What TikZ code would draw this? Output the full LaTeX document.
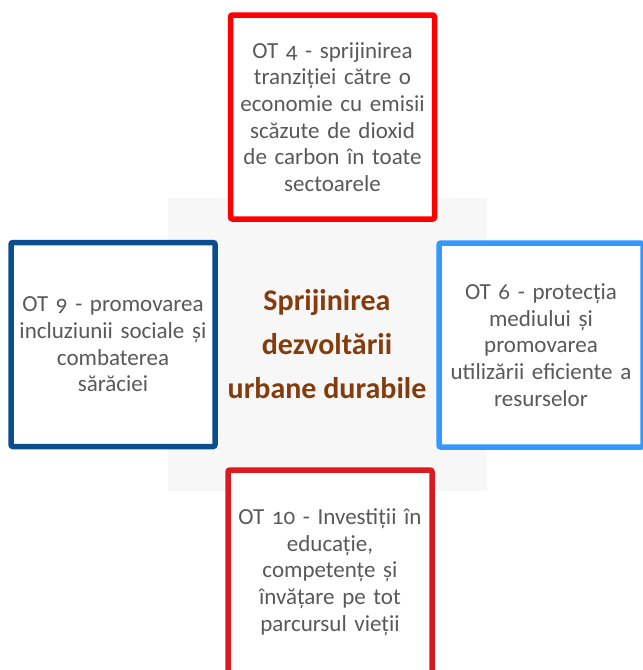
\documentclass[tikz,border=0pt]{standalone}
\usepackage{fontspec}
\setmainfont[Numbers=OldStyle]{Carlito}
\definecolor{txtgray}{HTML}{595959}
\definecolor{brownc}{HTML}{843C0C}
\definecolor{redtop}{HTML}{FF0000}
\definecolor{redbot}{HTML}{DA1A1F}
\definecolor{bluedark}{HTML}{0B4E8D}
\definecolor{bluelight}{HTML}{3399FF}
\definecolor{bggray}{HTML}{F7F7F7}
\tikzset{
  obox/.style={draw, fill=white, line width=5.5pt, rounded corners=2pt,
    minimum width=204pt, minimum height=204pt, text width=200pt, align=center,
    inner sep=0pt, text=txtgray, font=\fontsize{23}{26.7}\selectfont},
  centertext/.style={align=center, text=brownc, font=\bfseries\fontsize{30}{44}\selectfont}
}
\begin{document}
\begin{tikzpicture}[x=1pt,y=-1pt]
\useasboundingbox (0,0) rectangle (643,670);
\fill[bggray] (168,198) rectangle (487,491);
\node[obox, draw=redtop] (top) at (332.5,117) {OT 4 - sprijinirea\\tranziției către o\\economie cu emisii\\scăzute de dioxid\\de carbon în toate\\sectoarele};
\node[obox, draw=bluedark] (left) at (113,344.5) {OT 9 - promovarea\\incluziunii sociale și\\combaterea\\sărăciei};
\node[obox, draw=bluelight] (right) at (541,345) {OT 6 - protecția\\mediului și\\promovarea\\utilizării eficiente a\\resurselor};
\node[obox, draw=redbot] (bottom) at (330,572) {OT 10 - Investiții în\\educație,\\competențe și\\învățare pe tot\\parcursul vieții};
\node[centertext] (center) at (327,344) {Sprijinirea\\dezvoltării\\urbane durabile};
\end{tikzpicture}
\end{document}
